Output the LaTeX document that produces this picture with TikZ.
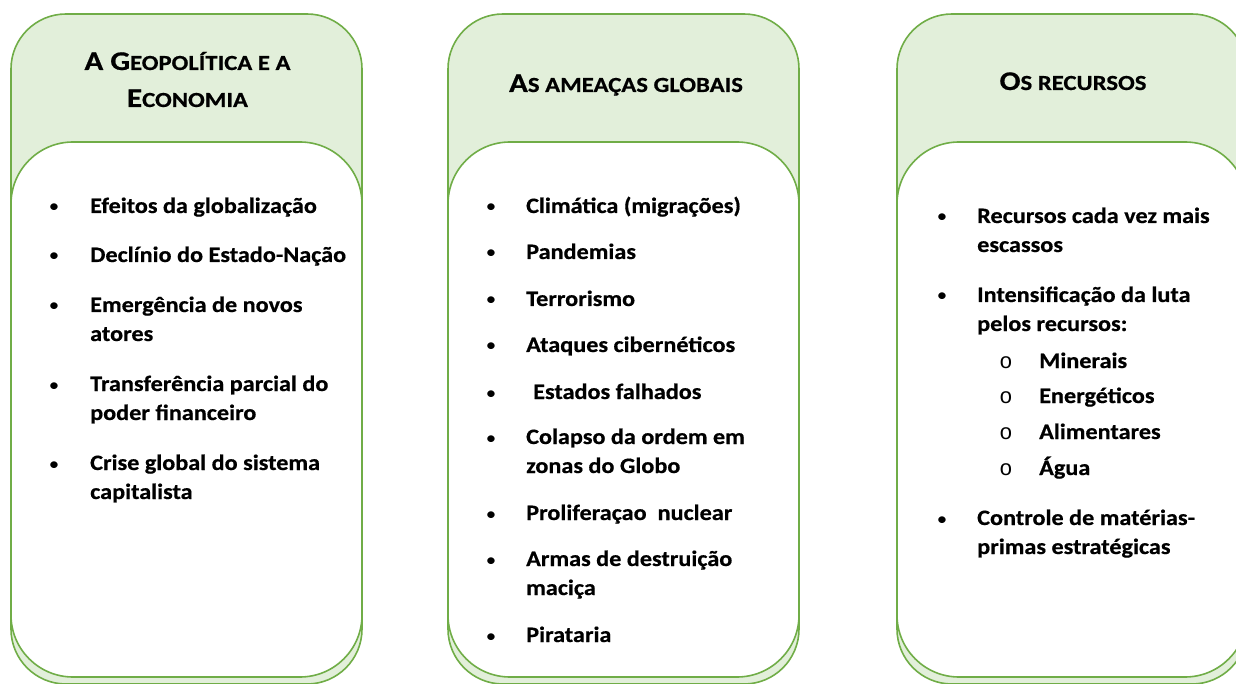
\documentclass[tikz,border=0pt]{standalone}
\usepackage{fontspec}
\setmainfont{Carlito}[FakeStretch=1.1,BoldFeatures={FakeBold=0.6}]
\newfontfamily\ttlfnt{Carlito}[FakeStretch=1.15,BoldFeatures={FakeBold=0.6}]
\newfontfamily\monofnt{Liberation Mono}
\definecolor{gline}{RGB}{112,173,71}
\definecolor{gfill}{RGB}{226,239,218}
\newcommand\BigL[1]{{\fontsize{27}{30}\selectfont #1}}
\newcommand\SmL[1]{{\fontsize{21.5}{30}\selectfont #1}}
\begin{document}
\begin{tikzpicture}[x=1pt,y=-1pt,
  hdrbox/.style={draw=gline,fill=gfill,line width=1.6pt,rounded corners=55pt},
  bodybox/.style={draw=gline,fill=white,line width=1.6pt,rounded corners=62pt},
  ttl/.style={anchor=base,inner sep=0pt,font=\ttlfnt\bfseries},
  itm/.style={anchor=base west,inner sep=0pt,font=\bfseries\fontsize{22}{29}\selectfont},
  bul/.style={anchor=base,inner sep=0pt,font=\fontsize{19}{29}\selectfont},
  subbul/.style={anchor=base,inner sep=0pt,font=\monofnt\fontsize{22}{29}\selectfont}]
\useasboundingbox (0,0) rectangle (1236,684);
\clip (0,0) rectangle (1236,684);
% column 1
\draw[hdrbox] (11,14) rectangle (362,684);
\draw[bodybox] (11,142) rectangle (362,677);
% column 2
\draw[hdrbox] (448,14) rectangle (799,684);
\draw[bodybox] (448,142) rectangle (799,677);
% column 3
\draw[hdrbox] (897,14) rectangle (1247,684);
\draw[bodybox] (897,142) rectangle (1247,677);
% titles
\node[ttl] (t1a) at (187.5,70) {\BigL{A G}\SmL{EOPOLÍTICA E A}};
\node[ttl] (t1b) at (187.5,107) {\BigL{E}\SmL{CONOMIA}};
\node[ttl] (t2) at (626,92) {\BigL{A}\SmL{S AMEAÇAS GLOBAIS}};
\node[ttl] (t3) at (1073,90) {\BigL{O}\SmL{S RECURSOS}};
% column 1 items
\foreach \y [count=\i] in {213,262,312,391,470}{\node[bul] (b1\i) at (54,\y) {•};}
\node[itm] (i1a) at (90,213) {Efeitos da globalização};
\node[itm] (i1b) at (90,262) {Declínio do Estado-Nação};
\node[itm] (i1c) at (90,312) {Emergência de novos};
\node[itm] (i1c2) at (90,341) {atores};
\node[itm] (i1d) at (90,391) {Transferência parcial do};
\node[itm] (i1d2) at (90,420) {poder financeiro};
\node[itm] (i1e) at (90,470) {Crise global do sistema};
\node[itm] (i1e2) at (90,499) {capitalista};
% column 2 items
\foreach \y [count=\i] in {213,259,306,352,399,444,520,566,642}{\node[bul] (b2\i) at (491,\y) {•};}
\node[itm] (i2a) at (526,213) {Climática (migrações)};
\node[itm] (i2b) at (526,259) {Pandemias};
\node[itm] (i2c) at (526,306) {Terrorismo};
\node[itm] (i2d) at (526,352) {Ataques cibernéticos};
\node[itm] (i2e) at (533,399) {Estados falhados};
\node[itm] (i2f) at (526,444) {Colapso da ordem em};
\node[itm] (i2f2) at (526,473) {zonas do Globo};
\node[itm] (i2g) at (526,520) {Proliferaçao\ \ nuclear};
\node[itm] (i2h) at (526,566) {Armas de destruição};
\node[itm] (i2h2) at (526,595) {maciça};
\node[itm] (i2i) at (526,642) {Pirataria};
% column 3 items
\foreach \y [count=\i] in {223,302,525}{\node[bul] (b3\i) at (942,\y) {•};}
\foreach \y [count=\i] in {368,403,439,475}{\node[subbul] (s3\i) at (1006,\y) {o};}
\node[itm] (i3a) at (977,223) {Recursos cada vez mais};
\node[itm] (i3a2) at (977,252) {escassos};
\node[itm] (i3b) at (977,302) {Intensificação da luta};
\node[itm] (i3b2) at (977,331) {pelos recursos:};
\node[itm] (i3s1) at (1039,368) {Minerais};
\node[itm] (i3s2) at (1039,403) {Energéticos};
\node[itm] (i3s3) at (1039,439) {Alimentares};
\node[itm] (i3s4) at (1039,475) {Água};
\node[itm] (i3c) at (977,525) {Controle de matérias-};
\node[itm] (i3c2) at (977,554) {primas estratégicas};
\end{tikzpicture}
\end{document}
